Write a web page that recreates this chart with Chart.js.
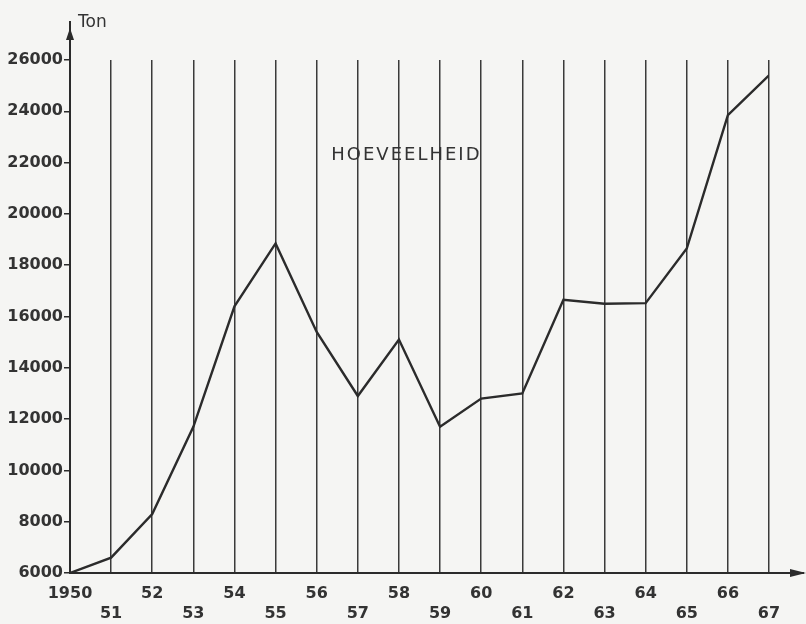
<!DOCTYPE html>
<html>
<head>
<meta charset="utf-8">
<script src="https://cdn.jsdelivr.net/npm/chart.js@4.4.0/dist/chart.umd.min.js"></script>
<style>
  html, body { margin: 0; padding: 0; background: #f5f5f3; }
  #wrap { width: 806px; height: 624px; }
</style>
</head>
<body>
<div id="wrap"><canvas id="chart" width="806" height="624"></canvas></div>
<script>
const years = [1950, 1951, 1952, 1953, 1954, 1955, 1956, 1957, 1958, 1959,
               1960, 1961, 1962, 1963, 1964, 1965, 1966, 1967];
const tonnage = [6000, 6600, 8300, 11700, 16400, 18850, 15400, 12900, 15100, 11700,
                 12800, 13000, 16650, 16500, 16520, 18650, 23850, 25400];
const yTicks = [6000, 8000, 10000, 12000, 14000, 16000, 18000, 20000, 22000, 24000, 26000];
const chartTitle = 'HOEVEELHEID';
const unitLabel = 'Ton';

const ink = '#2b2b2b';

// axis arrows + labels drawn on top of the chart
const decorations = {
    id: 'decorations',
    afterDraw(chart) {
        const ctx = chart.ctx;
        const area = chart.chartArea;
        const x = chart.scales.x;
        const y = chart.scales.y;
        ctx.save();
        ctx.strokeStyle = ink;
        ctx.fillStyle = ink;
        ctx.lineWidth = 2;

        // y axis extension with arrow
        ctx.beginPath();
        ctx.moveTo(area.left, area.top);
        ctx.lineTo(area.left, 21);
        ctx.stroke();
        ctx.beginPath();
        ctx.moveTo(area.left, 28);
        ctx.lineTo(area.left - 4, 40);
        ctx.lineTo(area.left + 4, 40);
        ctx.closePath();
        ctx.fill();

        // x axis extension with arrow
        ctx.beginPath();
        ctx.moveTo(area.right, area.bottom);
        ctx.lineTo(804, area.bottom);
        ctx.stroke();
        ctx.beginPath();
        ctx.moveTo(806, area.bottom);
        ctx.lineTo(790, area.bottom - 4);
        ctx.lineTo(790, area.bottom + 4);
        ctx.closePath();
        ctx.fill();

        ctx.fillStyle = '#333';
        ctx.font = '17px "DejaVu Sans"';
        ctx.textBaseline = 'middle';
        ctx.textAlign = 'left';
        ctx.fillText(unitLabel, area.left + 8, 23);

        ctx.font = '500 18px "DejaVu Sans"';
        ctx.letterSpacing = '2px';
        ctx.fillText(chartTitle, x.getPixelForValue(1956.5) - 6, y.getPixelForValue(22300));
        ctx.restore();
    }
};

new Chart(document.getElementById('chart'), {
    type: 'line',
    data: {
        datasets: [{
            data: years.map((yr, i) => ({ x: yr, y: tonnage[i] })),
            borderColor: ink,
            borderWidth: 2.4,
            pointRadius: 0,
            tension: 0,
            fill: false
        }]
    },
    options: {
        responsive: false,
        animation: false,
        layout: { padding: { top: 60, right: 37, left: 0, bottom: 0 } },
        plugins: {
            legend: { display: false },
            tooltip: { enabled: false }
        },
        scales: {
            x: {
                type: 'linear',
                min: 1950,
                max: 1967,
                afterBuildTicks: axis => { axis.ticks = years.map(v => ({ value: v })); },
                afterFit: axis => { axis.height = 51; },
                grid: { color: '#3a3a3a', lineWidth: 1.5, drawTicks: false },
                border: { display: true, color: ink, width: 2 },
                ticks: {
                    autoSkip: false,
                    maxRotation: 0,
                    padding: 11,
                    color: '#333',
                    font: { family: 'DejaVu Sans', size: 16, weight: 'bold', lineHeight: 1.25 },
                    callback: v => {
                        const lbl = v === 1950 ? '1950' : String(v).slice(2);
                        return v % 2 === 0 ? [lbl, ''] : ['', lbl];
                    }
                }
            },
            y: {
                min: 6000,
                max: 26000,
                afterBuildTicks: axis => { axis.ticks = yTicks.map(v => ({ value: v })); },
                afterFit: axis => { axis.width = 70; },
                grid: { drawOnChartArea: false, drawTicks: true, tickLength: 6, color: ink, lineWidth: 1.5 },
                border: { display: true, color: ink, width: 2 },
                ticks: {
                    padding: 1,
                    color: '#333',
                    font: { family: 'DejaVu Sans', size: 16, weight: 'bold' },
                    callback: v => String(v)
                }
            }
        }
    },
    plugins: [decorations]
});
</script>
</body>
</html>
